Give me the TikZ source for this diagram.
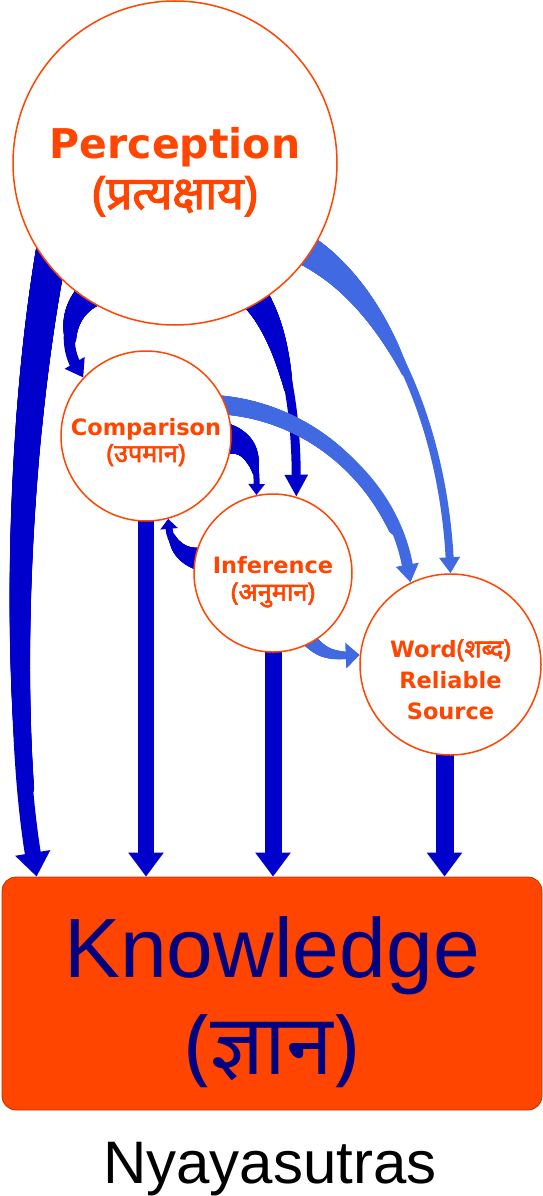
\documentclass[tikz,border=0pt]{standalone}
\usepackage{fontspec}
\setmainfont{DejaVu Sans}
\newfontfamily\arialfont{Liberation Sans}
\newfontfamily\devafont[Script=Devanagari]{Noto Sans}
\newfontfamily\devabold[Script=Devanagari, Scale=1.12, FakeBold=2.5]{Noto Sans}
\usetikzlibrary{positioning, shapes.geometric, arrows.meta, calc, decorations.markings}
\definecolor{pramanared}{HTML}{FF4500}
\definecolor{flowdark}{HTML}{0000CC}
\definecolor{flowlight}{HTML}{4169E1}
\definecolor{knownavy}{HTML}{000080}
\pgfdeclarelayer{links}
\pgfsetlayers{links,main}
\tikzset{
    pramana/.style={circle, draw=pramanared, line width=1.5pt, fill=white, inner sep=0pt},
    pramanatext/.style={text=pramanared, align=center, font=\bfseries\fontsize{22.5}{27}\selectfont},
    toknow/.style={color=flowdark, line width=#1, -{Triangle[width=34pt,length=24pt]}},
    % thick at the source, thin at the tip: start width, end width, fraction of the length
    taper/.style n args={3}{line width=#2,
        postaction={decorate, decoration={markings,
            mark=between positions 0 and #3 step 0.8pt with {
                \pgfmathsetmacro\flowrad{#2/2+(#1-#2)/2*(1-\pgfkeysvalueof{/pgf/decoration/mark info/distance from start}/(#3*\pgfdecoratedpathlength))}
                \fill circle (\flowrad pt);
            }}}},
}

\begin{document}
\begin{tikzpicture}[x=1pt, y=-1pt,
    deepflow/.style={color=flowdark},
    paleflow/.style={color=flowlight},
    knowbox/.style={rectangle, rounded corners=14pt, fill=pramanared, draw=pramanared!75!black, line width=0.8pt, minimum width=540pt, minimum height=233pt},
    knowtext/.style={text=knownavy, align=center, font=\arialfont\fontsize{84}{97}\selectfont}
]
    \useasboundingbox (0,0) rectangle (543,1196);

    \node[pramana, minimum size=324pt, label={[pramanatext, yshift=-9pt, font=\bfseries\fontsize{41}{50}\selectfont]center:{Perception\\{\devabold (प्रत्यक्षाय)}}}] (perc) at (175,163) {};
    \node[pramana, minimum size=170pt, label={[pramanatext, yshift=-6pt]center:{Comparison\\{\devabold (उपमान)}}}] (comp) at (146,436) {};
    \node[pramana, minimum size=158pt, label={[pramanatext, yshift=-9pt]center:{Inference\\{\devabold (अनुमान)}}}] (infer) at (273,573) {};
    \node[pramana, minimum size=181pt, label={[pramanatext, yshift=-15pt, font=\bfseries\fontsize{22.5}{31}\selectfont]center:{Word{\devabold (शब्द)}\\Reliable\\Source}}] (word) at (450.5,664.5) {};
    \node[knowbox, label={[knowtext, yshift=-9pt]center:{Knowledge\\{\devafont (ज्ञान)}}}] (know) at (272,993.5) {};
    \node[anchor=base, font=\arialfont\fontsize{60}{60}\selectfont] (title) at (270,1183) {Nyayasutras};

    \begin{pgfonlayer}{links}
        % from Perception
        \draw[deepflow, taper={32pt}{16pt}{0.85}, -{Triangle[width=34pt,length=24pt]}] ($(perc.center)!0.85!(perc.210)$) .. controls (18,420) and (8,700) .. ([xshift=35pt]know.north west);
        \draw[deepflow, taper={30pt}{11pt}{0.6}, -{Triangle[width=22pt,length=17pt]}] ($(perc.center)!0.92!(perc.238)$) .. controls (58,315) and (70,355) .. (comp.137);
        \draw[deepflow, taper={30pt}{9pt}{0.5}, -{Triangle[width=22pt,length=22pt]}] ($(perc.center)!0.9!(perc.300)$) .. controls (285,330) and (296,410) .. (infer.73);
        % between Comparison and Inference
        \draw[deepflow, taper={32pt}{6pt}{0.7}, -{Triangle[width=16pt,length=11pt]}] ($(comp.center)!0.9!(comp.-2)$) .. controls (250,440) and (257,460) .. (infer.102);
        \draw[deepflow, taper={24pt}{7pt}{0.7}, -{Triangle[width=17pt,length=10pt]}] ($(infer.center)!0.9!(infer.169)$) .. controls (178,557) and (170,540) .. (comp.285);
        % down to Knowledge
        \draw[toknow=16pt] (comp.center) -- (comp.center |- know.north);
        \draw[toknow=17pt] (infer.center) -- (infer.center |- know.north);
        \draw[toknow=18pt] ($(word.center)+(-6,0)$) -- ($(word.center |- know.north)+(-6,0)$);
        % towards Word
        \draw[paleflow, taper={16pt}{7pt}{0.8}, -{Triangle[width=25pt,length=14pt]}] ($(infer.center)!0.9!(infer.298)$) .. controls (322,656) and (335,656) .. (word.174);
        \draw[paleflow, taper={32pt}{8pt}{0.45}, -{Triangle[width=20pt,length=16pt]}] ($(perc.center)!0.9!(perc.326)$) .. controls (385,290) and (442,420) .. (word.north);
        \draw[paleflow, taper={19pt}{11pt}{0.8}, -{Triangle[width=22pt,length=18pt]}] ($(comp.center)!0.9!(comp.24)$) .. controls (310,410) and (392,480) .. (word.116);
    \end{pgfonlayer}
\end{tikzpicture}
\end{document}
